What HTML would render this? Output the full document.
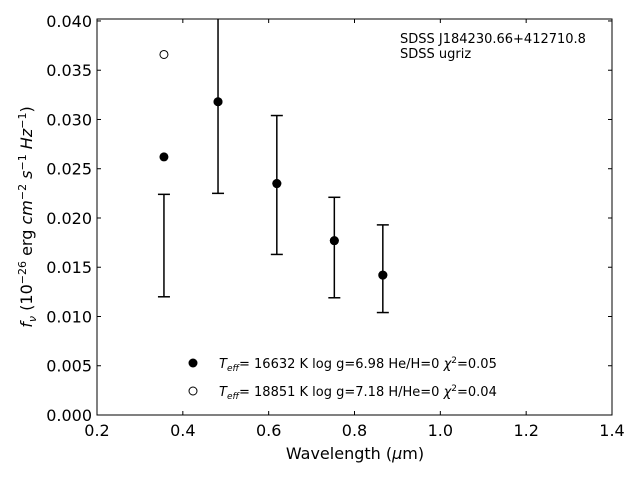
<!DOCTYPE html>
<html><head><meta charset="utf-8"><style>
body{margin:0;background:#fff}
svg{display:block;font-family:"DejaVu Sans","Liberation Sans",sans-serif}
</style></head><body>
<svg id="c" width="640" height="480"></svg>
<script>
const wavelengths=[0.356,0.482,0.619,0.753,0.866];
const obsLow=[0.0120,0.0225,0.0163,0.0119,0.0104];
const obsHigh=[0.0224,0.0420,0.0304,0.0221,0.0193];
const modelH=[0.0262,0.0318,0.0235,0.0177,0.0142];
const modelHe=[0.0366,0.0318,0.0235,0.0177,0.0142];
const xTicks=[0.2,0.4,0.6,0.8,1.0,1.2,1.4];
const yTicks=[0,0.005,0.01,0.015,0.02,0.025,0.03,0.035,0.04];
const L=97,R=612,T=19,B=415,X0=0.2,X1=1.4,Y0=0,Y1=0.0402;
const sx=v=>L+(v-X0)/(X1-X0)*(R-L);
const sy=v=>B-(v-Y0)/(Y1-Y0)*(B-T);
const svg=document.getElementById('c');const NS='http://www.w3.org/2000/svg';
function mk(t,a,p){const e=document.createElementNS(NS,t);for(const k in a)e.setAttribute(k,a[k]);(p||svg).appendChild(e);return e;}
const clip=mk('clipPath',{id:'cl'});mk('rect',{x:L,y:T,width:R-L,height:B-T},clip);
const g=mk('g',{'clip-path':'url(#cl)'});

wavelengths.forEach((w,i)=>{
 const x=sx(w);
 const eb=mk('g',{stroke:'#000','stroke-width':1.5},g);
 
 mk('line',{x1:x,x2:x,y1:sy(obsLow[i]),y2:sy(obsHigh[i])},eb);
 mk('line',{x1:x-6,x2:x+6,y1:sy(obsLow[i]),y2:sy(obsLow[i])},eb);
 mk('line',{x1:x-6,x2:x+6,y1:sy(obsHigh[i]),y2:sy(obsHigh[i])},eb);
 const o=mk('circle',{cx:x,cy:sy(modelHe[i]),r:4,fill:'#fff',stroke:'#000','stroke-width':1},g);
 
 const f=mk('circle',{cx:x,cy:sy(modelH[i]),r:4.5,fill:'#000'},g);
 
});
const fr=mk('rect',{x:L,y:T,width:R-L,height:B-T,fill:'none',stroke:'#000','stroke-width':1});

xTicks.forEach(v=>{const x=sx(v);
 mk('line',{x1:x,x2:x,y1:B,y2:B-4,stroke:'#000'});mk('line',{x1:x,x2:x,y1:T,y2:T+4,stroke:'#000'});
 const t=mk('text',{x:x,y:B+21,'text-anchor':'middle','font-size':16});t.textContent=v.toFixed(1);
 });
yTicks.forEach(v=>{const y=sy(v);
 mk('line',{x1:L,x2:L+4,y1:y,y2:y,stroke:'#000'});mk('line',{x1:R,x2:R-4,y1:y,y2:y,stroke:'#000'});
 const t=mk('text',{x:L-5,y:y+6,'text-anchor':'end','font-size':16});t.textContent=v.toFixed(3);
 });
</script>
<svg width="640" height="480" style="position:absolute;left:0;top:0;font-family:'DejaVu Sans','Liberation Sans',sans-serif">
<text x="355" y="459" text-anchor="middle" font-size="16">Wavelength (<tspan font-style="italic">μ</tspan>m)</text>
<text transform="translate(32,217) rotate(-90)" text-anchor="middle" font-size="16"><tspan font-style="italic">f</tspan><tspan font-style="italic" font-size="11" dy="4">ν</tspan><tspan dy="-4"> (10</tspan><tspan font-size="11" dy="-6">−26</tspan><tspan dy="6"> erg </tspan><tspan font-style="italic">cm</tspan><tspan font-size="11" dy="-6">−2</tspan><tspan dy="6" font-style="italic"> s</tspan><tspan font-size="11" dy="-6">−1</tspan><tspan dy="6" font-style="italic"> Hz</tspan><tspan font-size="11" dy="-6">−1</tspan><tspan dy="6">)</tspan></text>
<text x="400" y="43" font-size="13">SDSS J184230.66+412710.8</text>
<text x="400" y="58" font-size="13">SDSS ugriz</text>
<g font-size="13">
<circle cx="193" cy="363" r="4.5" fill="#000"/>
<text x="219" y="368"><tspan font-style="italic">T</tspan><tspan font-style="italic" font-size="9" dy="3">eff</tspan><tspan dy="-3">= 16632 K  log g=6.98  He/H=0  </tspan><tspan font-style="italic">χ</tspan><tspan font-size="9" dy="-5">2</tspan><tspan dy="5">=0.05</tspan></text>
<circle cx="193" cy="391" r="4" fill="#fff" stroke="#000"/>
<text x="219" y="396"><tspan font-style="italic">T</tspan><tspan font-style="italic" font-size="9" dy="3">eff</tspan><tspan dy="-3">= 18851 K  log g=7.18  H/He=0  </tspan><tspan font-style="italic">χ</tspan><tspan font-size="9" dy="-5">2</tspan><tspan dy="5">=0.04</tspan></text>
</g>
</svg>
</body></html>
